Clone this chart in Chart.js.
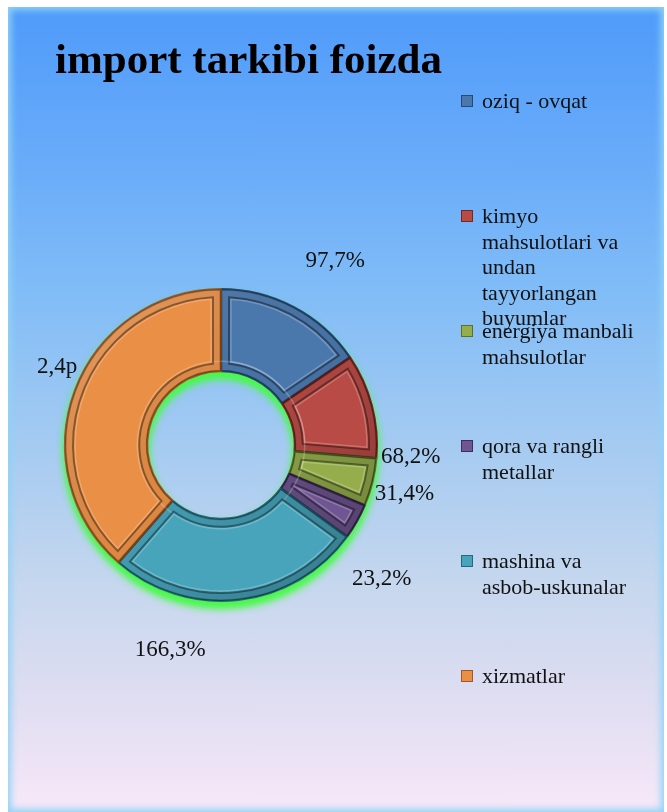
<!DOCTYPE html>
<html lang="uz">

<head>
  <meta charset="UTF-8">
  <title>import tarkibi foizda</title>
  <script src="https://cdn.jsdelivr.net/npm/chart.js@4.4.0/dist/chart.umd.min.js"></script>
  <style>
    html, body { margin: 0; padding: 0; background: #fff; }
    #wrap { position: relative; width: 667px; height: 812px; overflow: hidden; }
    #panel {
      position: absolute; left: 8px; top: 7px; width: 656px; height: 805px;
      background: linear-gradient(#4f9bfa 0%, #6aacf9 20%, #80bcf7 35%, #a6cbf1 55%, #c6d7ee 72%, #e1def2 87%, #f7e8f8 100%);
      box-shadow: inset 0 0 7px 3px #8fd3f7;
    }
    canvas { position: absolute; left: 0; top: 0; }
  </style>
</head>

<body>
  <div id="wrap">
    <div id="panel"></div>
    <canvas id="myChart" width="667" height="812"></canvas>
  </div>

  <script>
    // chart data
    const titleText = 'import tarkibi foizda';
    const categories = ['oziq - ovqat', 'kimyo mahsulotlari va undan tayyorlangan buyumlar',
      'energiya manbali mahsulotlar', 'qora va rangli metallar', 'mashina va asbob-uskunalar', 'xizmatlar'];
    const legendLines = [
      ['oziq - ovqat'],
      ['kimyo', 'mahsulotlari va', 'undan', 'tayyorlangan', 'buyumlar'],
      ['energiya manbali', 'mahsulotlar'],
      ['qora va rangli', 'metallar'],
      ['mashina va', 'asbob-uskunalar'],
      ['xizmatlar']
    ];
    const values = [97.7, 68.2, 31.4, 23.2, 166.3, 243];
    const valueLabels = ['97,7%', '68,2%', '31,4%', '23,2%', '166,3%', '2,4p'];

    // styles
    const faceColors = ['#4a78ad', '#b94b46', '#95ae4b', '#6f5591', '#47a4bb', '#e98f46'];
    const edgeColors = ['#264a75', '#742824', '#5d702b', '#402d5c', '#266a7a', '#9c5a26'];
    const labelShift = [3.7, 17.7, 0.7, 10, 20.4, 5.3];   // degrees, label angle vs slice middle
    const labelGap = [62, 34, 33.5, 52, 54, 26];          // px beyond outer edge

    function ringPath(ctx, x, y, s, e, rin, rout, d) {
      const ro = rout - d, ri = rin + d;
      ctx.beginPath();
      ctx.arc(x, y, ro, s + d / ro, e - d / ro);
      ctx.arc(x, y, ri, e - d / ri, s + d / ri, true);
      ctx.closePath();
    }

    // green glow under the whole ring
    const ringShadow = {
      id: 'ringShadow',
      beforeDatasetsDraw(chart) {
        const a = chart.getDatasetMeta(0).data[0];
        if (!a) return;
        const ctx = chart.ctx;
        ctx.save();
        ctx.beginPath();
        ctx.arc(a.x, a.y, a.outerRadius, 0, Math.PI * 2);
        ctx.moveTo(a.x + a.innerRadius, a.y);
        ctx.arc(a.x, a.y, a.innerRadius, 0, Math.PI * 2, true);
        ctx.closePath();
        ctx.shadowColor = 'rgba(70,250,70,1)';
        ctx.shadowBlur = 8;
        ctx.shadowOffsetY = 6;
        ctx.fillStyle = '#6f9fd8';
        ctx.fill();
        ctx.fill();
        ctx.restore();
      }
    };

    // bevel look on each slice
    const bevel = {
      id: 'bevel',
      afterDatasetsDraw(chart) {
        const ctx = chart.ctx;
        chart.getDatasetMeta(0).data.forEach((a) => {
          const d = 8;
          ctx.save();
          // band between outer edge and inset
          ctx.beginPath();
          ctx.arc(a.x, a.y, a.outerRadius, a.startAngle, a.endAngle);
          ctx.arc(a.x, a.y, a.innerRadius, a.endAngle, a.startAngle, true);
          ctx.closePath();
          ctx.clip();
          const g = ctx.createLinearGradient(a.x - a.outerRadius, a.y - a.outerRadius, a.x + a.outerRadius, a.y + a.outerRadius);
          g.addColorStop(0, 'rgba(255,255,255,0.2)');
          g.addColorStop(0.5, 'rgba(0,0,0,0.05)');
          g.addColorStop(1, 'rgba(0,0,0,0.28)');
          ctx.fillStyle = g;
          ctx.fill();
          ctx.lineWidth = 3;
          ctx.strokeStyle = 'rgba(0,0,0,0.25)';
          ctx.stroke();
          ctx.restore();

          ctx.save();
          ringPath(ctx, a.x, a.y, a.startAngle, a.endAngle, a.innerRadius, a.outerRadius, d);
          ctx.fillStyle = a.options.backgroundColor;
          ctx.fill();
          ctx.lineWidth = 2;
          ctx.strokeStyle = 'rgba(0,0,0,0.4)';
          ctx.stroke();
          ringPath(ctx, a.x, a.y, a.startAngle, a.endAngle, a.innerRadius, a.outerRadius, d + 2);
          ctx.lineWidth = 1.5;
          ctx.strokeStyle = 'rgba(255,255,255,0.22)';
          ctx.stroke();
          ctx.restore();
        });
      }
    };

    // title, legend and value labels
    const texts = {
      id: 'texts',
      afterDraw(chart) {
        const ctx = chart.ctx;
        ctx.save();
        ctx.fillStyle = '#000';
        ctx.textAlign = 'left';
        ctx.textBaseline = 'alphabetic';
        ctx.font = 'bold 43px "Liberation Serif"';
        ctx.fillText(titleText, 55, 73);

        // legend
        ctx.font = '22px "Liberation Serif"';
        legendLines.forEach((lines, i) => {
          const base = 108 + i * 115;
          ctx.fillStyle = faceColors[i];
          ctx.fillRect(461, base - 13, 12, 12);
          ctx.strokeStyle = edgeColors[i];
          ctx.lineWidth = 1;
          ctx.strokeRect(461.5, base - 12.5, 11, 11);
          ctx.fillStyle = '#111';
          lines.forEach((t, j) => ctx.fillText(t, 482, base + j * 25.5));
        });

        // value labels
        ctx.font = '23px "Liberation Serif"';
        ctx.textAlign = 'center';
        chart.getDatasetMeta(0).data.forEach((a, i) => {
          const mid = (a.startAngle + a.endAngle) / 2 + labelShift[i] * Math.PI / 180;
          const r = a.outerRadius + labelGap[i];
          const px = a.x + Math.cos(mid) * r;
          const py = a.y + Math.sin(mid) * r;
          ctx.fillText(valueLabels[i], px, py + 7.5);
        });
        ctx.restore();
      }
    };

    let ctx = document.getElementById('myChart').getContext('2d');
    let myChart = new Chart(ctx, {
      type: 'doughnut',
      data: {
        labels: categories,
        datasets: [{
          data: values,
          backgroundColor: faceColors,
          borderColor: edgeColors,
          borderWidth: 2,
          radius: 156,
          cutout: 78
        }]
      },
      options: {
        responsive: false,
        animation: false,
        events: [],
        layout: { padding: { left: 55, right: 280, top: 100, bottom: 22 } },
        plugins: {
          legend: { display: false },
          title: { display: false },
          tooltip: { enabled: false }
        }
      },
      plugins: [ringShadow, bevel, texts]
    });
  </script>
</body>

</html>
